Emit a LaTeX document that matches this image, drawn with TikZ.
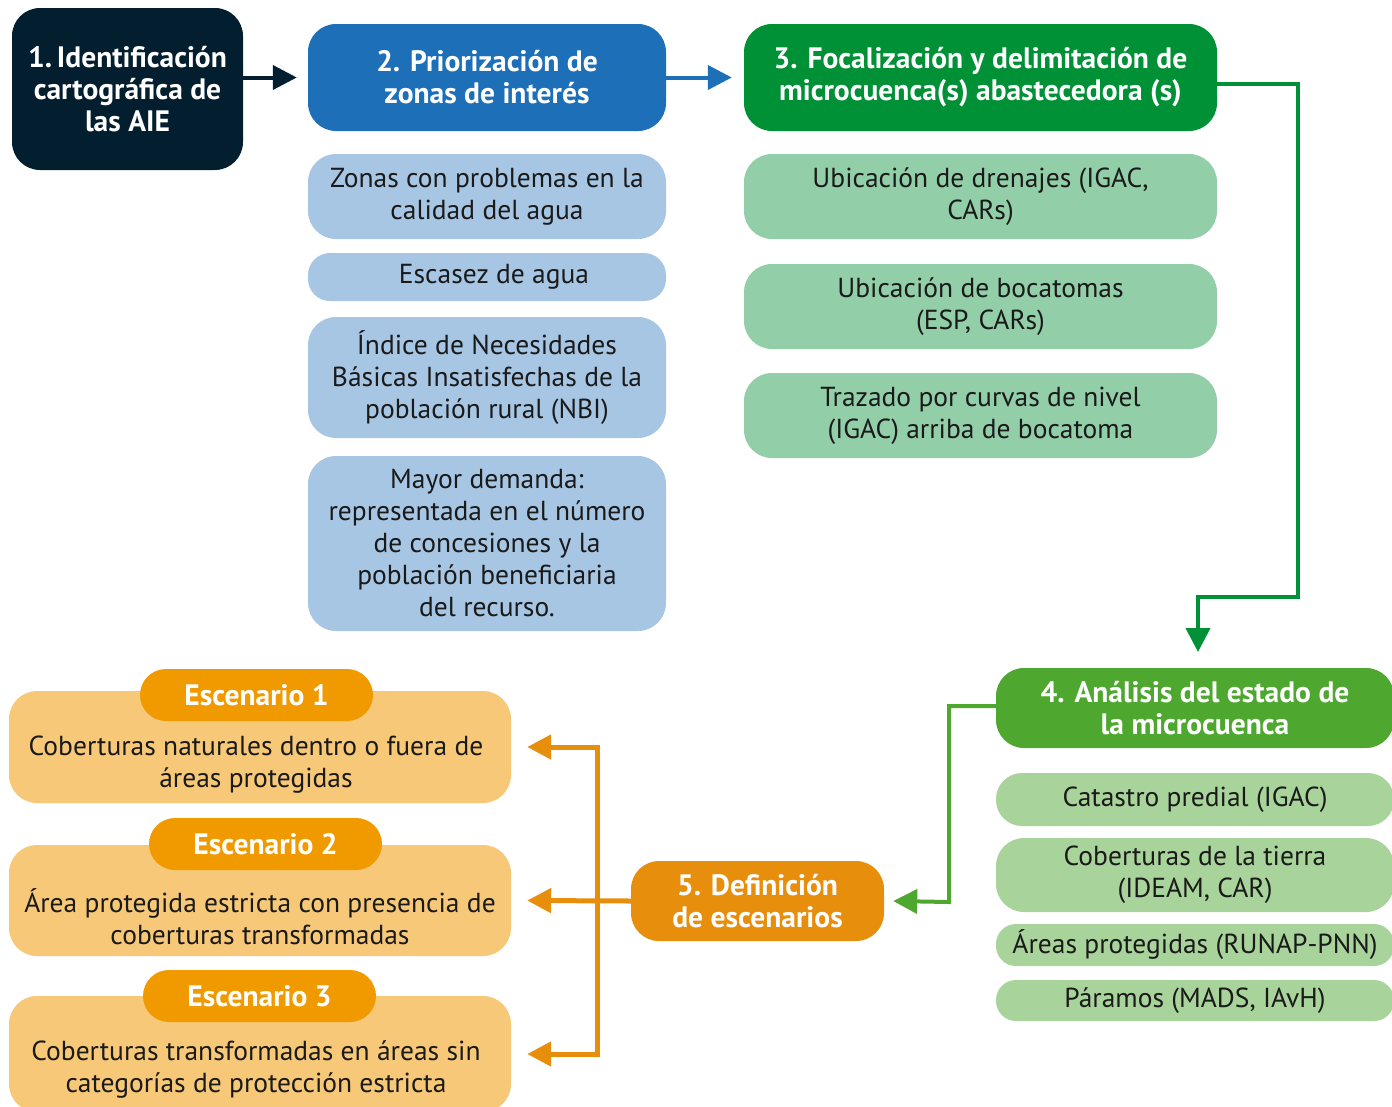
\documentclass[tikz,border=0pt]{standalone}
\usepackage{fontspec}
\setmainfont{PT Sans}
\usetikzlibrary{arrows.meta,calc}
\definecolor{navy}{HTML}{031E2F}
\definecolor{blueA}{HTML}{1D70B7}
\definecolor{greenA}{HTML}{009036}
\definecolor{lblue}{HTML}{A7C6E3}
\definecolor{lgreenA}{HTML}{92CEA8}
\definecolor{greenB}{HTML}{4EA72E}
\definecolor{lgreenB}{HTML}{A8D39A}
\definecolor{orangeA}{HTML}{E88E0D}
\definecolor{orangeP}{HTML}{F09A00}
\definecolor{lorange}{HTML}{F6C878}
\definecolor{txt}{HTML}{1A1A1A}
\tikzset{
  box/.style={rounded corners=28pt, inner sep=0pt, align=center},
  headbox/.style={box, text=white, font=\fontsize{29.5}{32}\selectfont\bfseries},
  itembox/.style={box, text=txt, font=\fontsize{27.5}{32}\selectfont},
  bodytext/.style={text=txt, align=center, font=\fontsize{27.5}{32}\selectfont, inner sep=0pt},
  conn/.style={line width=4pt},
  arr/.style={conn, -{Triangle[length=24pt,width=24pt]}},
}
\begin{document}
\begin{tikzpicture}[x=1pt,y=-1pt]
\useasboundingbox (0,0) rectangle (1392,1106);
\clip (0,0) rectangle (1392,1106);
% top row
\node[headbox, fill=navy, minimum width=231pt, minimum height=162pt] (b1) at (127.5,89)
  {1.\,Identificación\\cartográfica de\\las AIE};
\node[headbox, fill=blueA, minimum width=358pt, minimum height=107pt] (b2) at (487,77.5)
  {2. Priorización de\\zonas de interés};
\node[headbox, fill=greenA, minimum width=473pt, minimum height=107pt] (b3) at (980.5,77.5)
  {3. Focalización y delimitación de\\microcuenca(s) abastecedora (s)};
% column 2
\node[itembox, fill=lblue, minimum width=358pt, minimum height=85pt] (la) at (487,196.5)
  {Zonas con problemas en la\\calidad del agua};
\node[itembox, fill=lblue, rounded corners=22pt, minimum width=358pt, minimum height=48pt] (lb) at (487,277)
  {\hspace*{14pt}Escasez de agua};
\node[itembox, fill=lblue, minimum width=358pt, minimum height=121pt] (lc) at (487,377.5)
  {Índice de Necesidades\\Básicas Insatisfechas de la\\población rural (NBI)};
\node[itembox, fill=lblue, minimum width=358pt, minimum height=175pt] (ld) at (487,543.5)
  {Mayor demanda:\\representada en el número\\de concesiones y la\\población beneficiaria\\del recurso.};
% column 3
\node[itembox, fill=lgreenA, minimum width=473pt, minimum height=85pt] (ga) at (980.5,196.5)
  {Ubicación de drenajes (IGAC,\\CARs)};
\node[itembox, fill=lgreenA, minimum width=473pt, minimum height=85pt] (gb) at (980.5,306.5)
  {Ubicación de bocatomas\\(ESP, CARs)};
\node[itembox, fill=lgreenA, minimum width=473pt, minimum height=85pt] (gc) at (980.5,415.5)
  {Trazado por curvas de nivel\\(IGAC) arriba de bocatoma};
% box 4
\node[headbox, fill=greenB, minimum width=398pt, minimum height=80pt] (b4) at (1195,708)
  {4. Análisis del estado de\\la microcuenca};
\node[itembox, fill=lgreenB, rounded corners=26pt, minimum width=398pt, minimum height=53pt] (ha) at (1195,799.5)
  {Catastro predial (IGAC)};
\node[itembox, fill=lgreenB, minimum width=398pt, minimum height=74pt] (hb) at (1195,875)
  {Coberturas de la tierra\\(IDEAM, CAR)};
\node[itembox, fill=lgreenB, rounded corners=20pt, minimum width=398pt, minimum height=42pt] (hc) at (1195,945)
  {Áreas protegidas (RUNAP-PNN)};
\node[itembox, fill=lgreenB, rounded corners=20pt, minimum width=398pt, minimum height=41pt] (hd) at (1195,1000.5)
  {Páramos (MADS, IAvH)};
% box 5
\node[headbox, fill=orangeA, minimum width=253pt, minimum height=80pt] (b5) at (757.5,901)
  {5. Definición\\de escenarios};
% scenarios
\node[box, fill=lorange, minimum width=502pt, minimum height=112pt] (s1) at (260,747) {};
\node[box, fill=lorange, minimum width=502pt, minimum height=111pt] (s2) at (260,900.5) {};
\node[box, fill=lorange, minimum width=502pt, minimum height=116pt] (s3) at (260,1054) {};
\node[headbox, fill=orangeP, rounded corners=26pt, minimum width=233pt, minimum height=52pt] (p1) at (256.5,695) {Escenario 1};
\node[headbox, fill=orangeP, rounded corners=26pt, minimum width=233pt, minimum height=52pt] (p2) at (265.5,844) {Escenario 2};
\node[headbox, fill=orangeP, rounded corners=26pt, minimum width=233pt, minimum height=52pt] (p3) at (259.5,996) {Escenario 3};
\node[bodytext] (t1) at (256,765) {Coberturas naturales dentro o fuera de\\áreas protegidas};
\node[bodytext] (t2) at (260,917) {Área protegida estricta con presencia de\\coberturas transformadas};
\node[bodytext] (t3) at (256,1069) {Coberturas transformadas en áreas sin\\categorías de protección estricta};
% connectors
\draw[arr, navy] (b1.east |- b2.west) -- ([xshift=-11pt]b2.west);
\draw[arr, blueA] (b2.east) -- ([xshift=-12pt]b3.west);
\coordinate (k1) at (1298,597);
\coordinate (t4) at (1198,652);
\draw[arr, greenA] ([yshift=-6pt]b3.east) -| (k1) -| (t4);
\coordinate (k2) at (949,902);
\draw[arr, greenB] ([yshift=2pt]b4.west) -| (k2) -- ([xshift=9pt]b5.east);
\coordinate (j) at (597,901);
\draw[arr, orangeA, line width=5pt] (b5.west) -- ([xshift=16pt]s2.east);
\draw[conn, orangeA, line width=5pt] (j |- s1.east) -- (j |- s3.east);
\draw[arr, orangeA, line width=5pt] ([xshift=2.5pt]j |- s1.east) -- ([xshift=16pt]s1.east);
\draw[arr, orangeA, line width=5pt] ([xshift=2.5pt]j |- s3.east) -- ([xshift=16pt]s3.east);
\end{tikzpicture}
\end{document}
